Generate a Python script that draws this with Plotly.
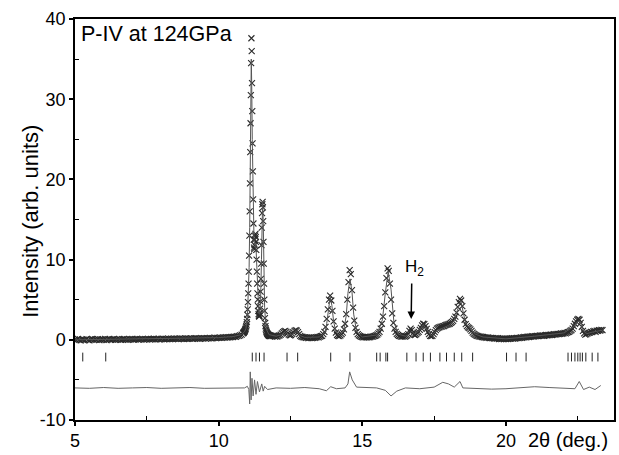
import numpy as np
import plotly.graph_objects as go

# ---------------- data ----------------
# observed profile, segment A: 5.00-10.85, step 0.05
obsA_start, obsA_step = 5.00, 0.05
obsA_y = [0.05, -0.05, 0.1, 0.0, -0.08, 0.06, 0.02, -0.04, 0.08, 0.0,
          -0.06, 0.05, 0.1, -0.02, 0.04, 0.0, 0.08, -0.05, 0.03, 0.06,
          0.0, 0.1, -0.03, 0.05, 0.08, 0.0, 0.04, 0.1, -0.02, 0.06,
          0.03, 0.09, 0.0, 0.07, 0.1, 0.02, 0.06, 0.0, 0.08, 0.04,
          0.1, 0.03, 0.07, 0.12, 0.02, 0.08, 0.05, 0.11, 0.03, 0.09,
          0.06, 0.12, 0.04, 0.1, 0.07, 0.13, 0.05, 0.09, 0.12, 0.06,
          0.1, 0.14, 0.07, 0.12, 0.09, 0.15, 0.08, 0.13, 0.1, 0.16,
          0.11, 0.14, 0.09, 0.17, 0.12, 0.15, 0.1, 0.18, 0.13, 0.16,
          0.14, 0.19, 0.12, 0.17, 0.2, 0.15, 0.18, 0.13, 0.21, 0.17,
          0.2, 0.16, 0.22, 0.18, 0.24, 0.19, 0.22, 0.26, 0.2, 0.25,
          0.23, 0.28, 0.24, 0.3, 0.26, 0.32, 0.28, 0.34, 0.3, 0.37,
          0.35, 0.4, 0.38, 0.45, 0.5, 0.55, 0.65, 0.8]
# segment B: 10.86-11.82, step 0.01
obsB_start, obsB_step = 10.86, 0.01
obsB_y = [0.85, 0.9, 0.95, 1.0, 1.05, 1.1, 1.2, 1.3, 1.4, 1.55,
          1.7, 1.9, 2.2, 2.6, 3.1, 3.8, 4.7, 5.8, 7.0, 8.5,
          10.5, 13.0, 16.0, 19.5, 23.4, 27.0, 30.5, 34.5, 37.6, 36.0,
          32.0, 28.5, 24.5, 21.0, 17.5, 14.5, 12.5, 11.5, 11.3, 11.8,
          12.5, 13.0, 13.2, 12.8, 12.2, 11.2, 10.0, 8.5, 7.0, 5.8,
          5.0, 4.2, 3.6, 3.2, 3.0, 2.9, 3.0, 3.3, 3.9, 4.8,
          6.0, 7.6, 9.5, 11.8, 14.0, 15.8, 16.9, 17.2, 16.5, 14.8,
          12.2, 9.5, 7.0, 5.0, 3.6, 2.7, 2.1, 1.7, 1.4, 1.2,
          1.05, 0.95, 0.85, 0.8, 0.75, 0.7, 0.65, 0.6, 0.6, 0.55,
          0.5, 0.5, 0.55, 0.5, 0.45, 0.5, 0.5]
# segment C: 11.84-23.36, step 0.04
obsC_start, obsC_step = 11.84, 0.04
obsC_y = [0.5, 0.45, 0.5, 0.4, 0.45, 0.4, 0.5, 0.55, 0.65, 0.8,
          0.95, 1.05, 1.1, 1.0, 0.8, 0.65, 0.55, 0.6, 0.75, 0.95,
          1.1, 1.2, 1.15, 0.95, 0.7, 0.5, 0.4, 0.35, 0.3, 0.3,
          0.25, 0.3, 0.2, 0.25, 0.3, 0.2, 0.25, 0.3, 0.25, 0.3, 0.35, 0.3, 0.4, 0.45,
          0.5, 0.7, 1.0, 1.6, 2.6, 3.8, 5.0, 5.5, 4.9, 3.6, 2.3, 1.4, 0.9, 0.6, 0.5, 0.45,
          0.55, 0.7, 0.9, 1.3, 2.0, 3.2, 5.0, 7.2, 8.7, 8.2, 6.2, 4.0, 2.4, 1.5, 1.0, 0.7, 0.55, 0.45, 0.4,
          0.35, 0.3, 0.35, 0.3, 0.3, 0.35, 0.3, 0.35, 0.4, 0.4, 0.45, 0.5, 0.55, 0.65, 0.8,
          1.0, 1.4, 2.0, 2.9, 4.2, 5.9, 7.7, 8.9, 8.6, 7.0, 5.0, 3.3, 2.1, 1.4, 1.0, 0.75, 0.6, 0.5, 0.45,
          0.4, 0.4, 0.45, 0.4, 0.45, 0.55, 0.7, 1.1, 1.4, 1.2, 0.8, 0.65, 0.6, 0.7, 0.85, 1.0, 1.25,
          1.5, 1.8, 2.0, 1.95, 1.7, 1.35, 1.0, 0.7, 0.5, 0.45, 0.5, 0.7,
          0.95, 1.2, 1.4, 1.5, 1.55, 1.6, 1.65, 1.7, 1.7, 1.8, 1.85, 1.9, 1.95, 2.0, 2.1, 2.2, 2.35, 2.6, 2.9, 3.4,
          4.1, 4.7, 5.1, 4.9, 4.2, 3.3, 2.5, 1.95, 1.7, 1.55, 1.45, 1.3, 1.1, 0.9, 0.75, 0.65, 0.55,
          0.5, 0.45, 0.4, 0.4, 0.35, 0.35, 0.3, 0.3, 0.25, 0.3, 0.25, 0.2, 0.25, 0.2, 0.2, 0.15, 0.2,
          0.15, 0.2, 0.1, 0.15, 0.1, 0.15, 0.1, 0.15, 0.1, 0.15, 0.1, 0.15, 0.15, 0.2, 0.15, 0.2,
          0.15, 0.2, 0.25, 0.2, 0.25, 0.3, 0.25, 0.3, 0.35, 0.3, 0.35, 0.4, 0.35, 0.4, 0.4, 0.45, 0.4, 0.45,
          0.45, 0.5, 0.45, 0.5, 0.55, 0.5, 0.55, 0.5, 0.55, 0.6, 0.55, 0.6, 0.6, 0.65, 0.6, 0.65,
          0.7, 0.65, 0.7, 0.75, 0.7, 0.75, 0.8, 0.75, 0.8, 0.85, 0.8, 0.9, 0.95, 1.0, 1.1,
          1.2, 1.4, 1.7, 2.0, 2.3, 2.5, 2.6, 2.5, 2.1, 1.6, 1.1, 0.8, 0.65, 0.7, 0.8, 0.85,
          0.9, 1.0, 0.95, 1.05, 1.1, 1.0, 1.15, 1.1, 1.2, 1.15, 1.25, 1.2]

# calculated (fitted) profile
calc_x = [5.0, 6.0, 7.0, 8.0, 9.0, 10.0, 10.5, 10.8, 10.9, 10.95, 11.0, 11.03, 11.06, 11.08,
          11.10, 11.12, 11.135, 11.15, 11.17, 11.19, 11.21, 11.23, 11.25, 11.28, 11.30, 11.33,
          11.36, 11.40, 11.43, 11.46, 11.49, 11.51, 11.53, 11.55, 11.57, 11.60, 11.65, 11.75,
          12.0, 12.2, 12.32, 12.45, 12.55, 12.70, 12.85, 13.0, 13.5, 13.7, 13.76, 13.82, 13.88,
          13.94, 14.0, 14.08, 14.2, 14.35, 14.44, 14.5, 14.57, 14.64, 14.7, 14.8, 15.0, 15.5,
          15.7, 15.8, 15.9, 16.0, 16.1, 16.25, 16.5, 16.62, 16.72, 16.82, 17.0, 17.12, 17.25,
          17.4, 17.6, 17.8, 18.0, 18.2, 18.3, 18.43, 18.52, 18.6, 18.75, 18.9, 19.2, 20.0, 21.0,
          22.0, 22.35, 22.5, 22.58, 22.68, 22.8, 23.0, 23.36]
calc_y = [0.0, 0.05, 0.08, 0.12, 0.17, 0.27, 0.4, 0.65, 1.0, 1.4, 2.8, 5.0, 9.0, 14.0,
          21.0, 30.0, 35.0, 32.0, 25.0, 19.0, 15.0, 12.5, 11.8, 12.0, 11.5, 8.5,
          5.5, 3.3, 3.2, 5.0, 10.0, 14.5, 17.3, 15.0, 10.0, 4.0, 1.4, 0.65,
          0.45, 0.65, 1.05, 0.6, 0.65, 1.15, 0.5, 0.3, 0.35, 0.9, 2.0, 4.0, 5.3,
          4.3, 2.3, 1.0, 0.5, 1.1, 3.0, 5.8, 7.6, 6.0, 3.2, 1.0, 0.35, 0.6,
          2.5, 5.8, 8.5, 6.3, 2.2, 0.7, 0.45, 0.65, 1.1, 0.7, 1.2, 1.9, 1.3,
          0.5, 1.2, 1.45, 1.8, 2.4, 3.6, 4.9, 3.3, 2.0, 1.4, 0.75, 0.35, 0.12, 0.45,
          0.85, 1.6, 2.3, 2.3, 1.2, 0.75, 0.95, 1.2]

# reflection positions (tick marks)
refl_pos = [5.27, 6.07, 11.17, 11.30, 11.42, 11.58, 12.38, 12.75, 13.90, 14.57,
            15.50, 15.62, 15.82, 15.88, 16.55, 16.87, 17.12, 17.37, 17.70, 17.93,
            18.20, 18.46, 18.84, 20.02, 20.35, 20.70, 22.16, 22.28, 22.40, 22.50,
            22.58, 22.66, 22.78, 23.00, 23.20]
refl_top, refl_bot = -1.6, -2.7

# difference curve (obs - calc, offset)
diff_x = [5.0, 5.5, 6.0, 6.5, 7.0, 7.5, 8.0, 8.5, 9.0, 9.5, 10.0, 10.5, 10.9, 11.0, 11.05,
          11.08, 11.10, 11.13, 11.16, 11.20, 11.25, 11.30, 11.35, 11.42, 11.50, 11.55, 11.60,
          11.70, 12.0, 12.5, 13.0, 13.5, 13.75, 13.9, 14.1, 14.4, 14.5, 14.56, 14.65, 14.8,
          15.2, 15.5, 15.8, 16.0, 16.2, 16.5, 17.0, 17.5, 17.8, 18.0, 18.2, 18.4, 18.5, 19.0,
          19.5, 20.0, 20.5, 21.0, 21.5, 22.0, 22.4, 22.55, 22.7, 22.9, 23.1, 23.3]
diff_y = [-6.0, -6.05, -5.95, -6.05, -6.0, -5.95, -6.05, -6.0, -5.95, -6.05, -6.0, -5.95, -6.0, -5.8, -6.2,
          -8.0, -4.0, -7.5, -4.8, -7.0, -5.0, -6.8, -5.2, -6.5, -5.5, -6.4, -5.8,
          -6.2, -6.0, -6.05, -5.95, -6.1, -6.35, -5.85, -6.1, -6.0, -5.5, -4.0, -5.0, -5.9,
          -6.0, -6.0, -6.3, -7.0, -6.4, -6.0, -6.1, -5.9, -5.3, -5.5, -5.9, -5.2, -6.0, -6.1,
          -6.15, -6.1, -6.0, -5.85, -5.95, -6.0, -6.1, -5.2, -6.2, -5.9, -6.2, -5.7]

x_range = [5, 23.76]
y_range = [-10, 40]
x_ticks = [5, 10, 15, 20]
y_ticks = [-10, 0, 10, 20, 30, 40]
y_ticktext = ["-10", "0", "10", "20", "30", "40"]

# ---------------- figure ----------------
def seg_x(start, step, ys):
    return list(np.round(start + step * np.arange(len(ys)), 3))

obs_x = seg_x(obsA_start, obsA_step, obsA_y) + seg_x(obsB_start, obsB_step, obsB_y) + seg_x(obsC_start, obsC_step, obsC_y)
obs_y = obsA_y + obsB_y + obsC_y

fig = go.Figure()

fig.add_trace(go.Scatter(x=obs_x, y=obs_y, mode="markers",
                         marker=dict(symbol="x-thin", size=6, line=dict(width=1.1, color="#2a2a2a"),
                                     color="#2a2a2a"),
                         hoverinfo="skip", showlegend=False))
fig.add_trace(go.Scatter(x=calc_x, y=calc_y, mode="lines",
                         line=dict(color="#555555", width=1), showlegend=False))

tx, ty = [], []
for p in refl_pos:
    tx += [p, p, None]
    ty += [refl_top, refl_bot, None]
fig.add_trace(go.Scatter(x=tx, y=ty, mode="lines", line=dict(color="#222222", width=1),
                         showlegend=False))
fig.add_trace(go.Scatter(x=diff_x, y=diff_y, mode="lines",
                         line=dict(color="#666666", width=1), showlegend=False))

font_family = "Liberation Sans, Arial, sans-serif"

fig.update_layout(
    width=619, height=455,
    margin=dict(l=75, r=5, t=19, b=35, autoexpand=False),
    paper_bgcolor="white", plot_bgcolor="white",
    font=dict(family=font_family, size=18, color="black"),
    showlegend=False,
)
fig.update_xaxes(range=x_range, tickvals=x_ticks, ticks="outside", ticklen=4,
                 tickwidth=1.5, tickcolor="black", showline=True, linecolor="black", linewidth=1.5,
                 mirror=True, showgrid=False, zeroline=False, automargin=False,
                 minor=dict(tickvals=[7.5, 12.5, 17.5, 22.5], ticks="inside", ticklen=4,
                            tickcolor="black", tickwidth=1),
                 tickfont=dict(size=18))
fig.update_yaxes(range=y_range, tickvals=y_ticks, ticktext=y_ticktext, ticks="outside", ticklen=4,
                 tickwidth=1.5, tickcolor="black", showline=True, linecolor="black", linewidth=1.5,
                 mirror=True, showgrid=False, zeroline=False, automargin=False,
                 minor=dict(tickvals=[-5, 5, 15, 25, 35], ticks="inside", ticklen=4,
                            tickcolor="black", tickwidth=1),
                 tickfont=dict(size=18))

fig.add_annotation(text="P-IV at 124GPa", xref="paper", yref="paper", x=0.008, y=0.998,
                   xanchor="left", yanchor="top", showarrow=False, font=dict(size=21.5))
fig.add_annotation(text="Intensity (arb. units)", xref="paper", yref="paper", x=-0.084, y=0.496,
                   textangle=-90, xanchor="center", yanchor="middle", showarrow=False,
                   font=dict(size=22))
fig.add_annotation(text="2θ (deg.)", xref="x", yref="paper", x=22.15, y=-0.05,
                   xanchor="center", yanchor="middle", showarrow=False, font=dict(size=20))
fig.add_annotation(text="H<sub>2</sub>", xref="x", yref="y", x=16.83, y=8.9,
                   xanchor="center", yanchor="middle", showarrow=False, font=dict(size=17))
fig.add_annotation(text="", xref="x", yref="y", x=16.70, y=2.6, axref="x", ayref="y",
                   ax=16.72, ay=7.2, showarrow=True, arrowhead=2, arrowsize=1, arrowwidth=1.5,
                   arrowcolor="black")

fig.write_html("out.html", config={"displayModeBar": False},
               post_script="document.body.style.margin='0px';document.body.style.overflow='hidden';")
